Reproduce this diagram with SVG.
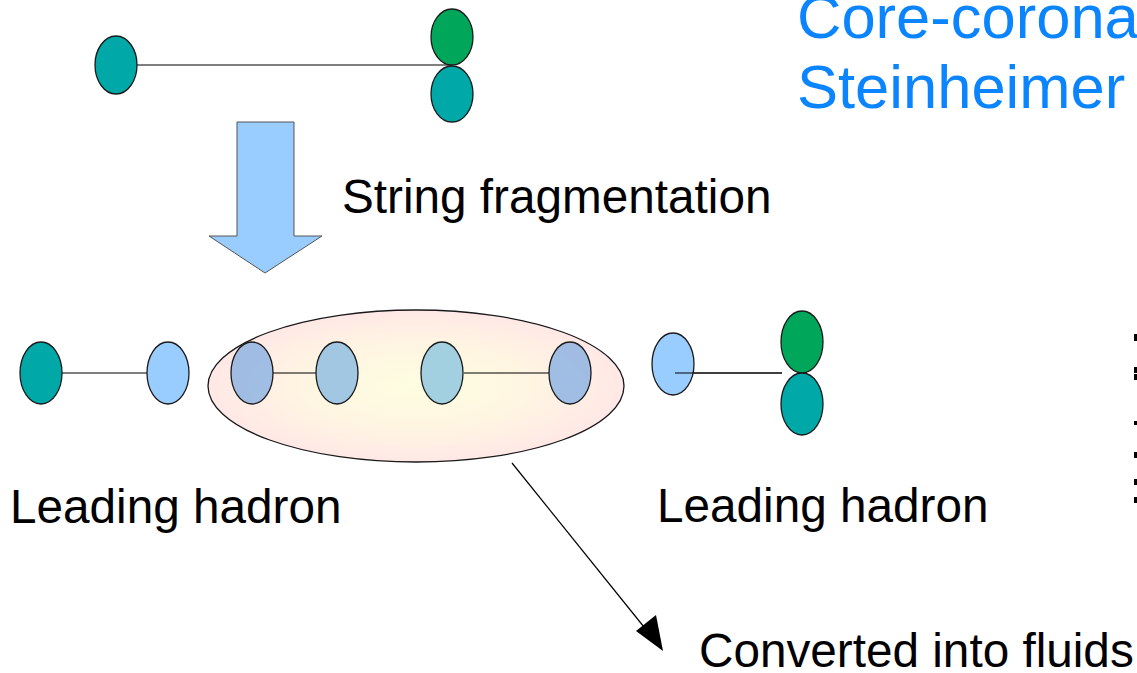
<svg xmlns="http://www.w3.org/2000/svg" width="1137" height="673" viewBox="0 0 1137 673">
<style>
.t{font-family:"Liberation Sans",Arial,sans-serif;fill:#000;font-size:47.7px}
.title{font-family:"Liberation Sans",Arial,sans-serif;fill:#0a84ff;font-size:61.5px}
.teal{fill:#00a8a8;stroke:#1a1a1a;stroke-width:1.3}
.green{fill:#00a65a;stroke:#1a1a1a;stroke-width:1.3}
.lb{fill:#99ccff;stroke:#1a1a1a;stroke-width:1.3}
.lbi{fill-opacity:0.95;stroke:#1a1a1a;stroke-width:1.3}
.ln{stroke:#000;stroke-width:1.2;fill:none}
</style>
<defs>
<radialGradient id="rg" cx="0.5" cy="0.5" r="0.5">
<stop offset="0" stop-color="#fdfde0"/>
<stop offset="0.55" stop-color="#fff5e2"/>
<stop offset="1" stop-color="#ffe8e6"/>
</radialGradient>
</defs>

<text class="title" x="797" y="38">Core-corona</text>
<text class="title" x="797" y="108">Steinheimer</text>

<g id="connectors">
<line class="ln" x1="137" y1="65" x2="452" y2="65"/>
<line class="ln" x1="62" y1="373" x2="147" y2="373"/>
<line class="ln" x1="675" y1="373" x2="782" y2="373"/>
<line x1="512" y1="463" x2="648" y2="632" stroke="#000" stroke-width="1.2"/>
<path d="M663,651 L636,631 L656,615 z" fill="#000"/>
</g>

<g id="string-top">
<ellipse class="teal" cx="116" cy="65" rx="21" ry="29"/>
<ellipse class="green" cx="452" cy="37" rx="21" ry="28"/>
<ellipse class="teal" cx="452" cy="94" rx="21" ry="28"/>
</g>

<g id="fragmentation-arrow">
<path d="M237,122 L294,122 L294,236 L322,236 L265,273 L209,236 L237,236 z" fill="#99ccff" stroke="#555" stroke-width="1"/>
</g>
<text class="t" x="342" y="213">String fragmentation</text>

<g id="left-hadron">
<ellipse class="teal" cx="41" cy="373" rx="21" ry="31"/>
<ellipse class="lb" cx="168" cy="373" rx="21" ry="31"/>
</g>

<g id="core">
<ellipse cx="416" cy="386" rx="208" ry="76" fill="url(#rg)" stroke="#1a1a1a" stroke-width="1.3"/>
<line class="ln" x1="273" y1="373" x2="316" y2="373"/>
<line class="ln" x1="464" y1="373" x2="549" y2="373"/>
<ellipse class="lbi" cx="252" cy="373" rx="21" ry="31" fill="#9bb9e3"/>
<ellipse class="lbi" cx="337" cy="373" rx="21" ry="31" fill="#9cc4e2"/>
<ellipse class="lbi" cx="442" cy="373" rx="21" ry="31" fill="#9dcde0"/>
<ellipse class="lbi" cx="570" cy="373" rx="21" ry="31" fill="#9bb9e3"/>
</g>

<g id="right-hadron">
<ellipse class="lb" cx="673" cy="364" rx="21" ry="31"/>
<line class="ln" x1="675" y1="373" x2="782" y2="373"/>
<ellipse class="green" cx="802" cy="342" rx="21" ry="31"/>
<ellipse class="teal" cx="802" cy="404" rx="21" ry="31"/>
</g>

<text class="t" x="10" y="523">Leading hadron</text>
<text class="t" x="657" y="522">Leading hadron</text>
<text class="t" x="699" y="667">Converted into fluids</text>

<g id="edge-marks" fill="#000">
<rect x="1134" y="334" width="3" height="7"/>
<rect x="1134" y="367" width="3" height="6"/>
<rect x="1134" y="374" width="3" height="6"/>
<rect x="1134" y="421" width="3" height="4"/>
<rect x="1134" y="452" width="3" height="6"/>
<rect x="1134" y="479" width="3" height="6"/>
<rect x="1134" y="497" width="3" height="6"/>
</g>
</svg>
